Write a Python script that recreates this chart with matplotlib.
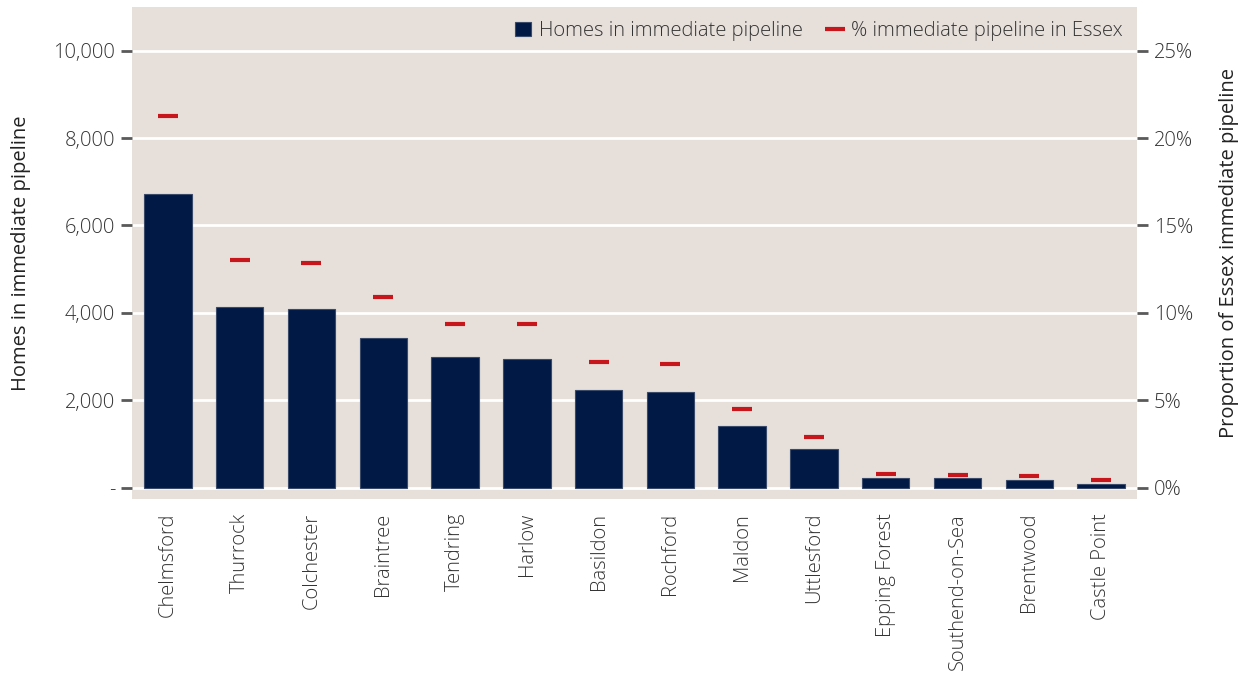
import matplotlib
matplotlib.use("Agg")
import matplotlib.pyplot as plt
from matplotlib.ticker import FuncFormatter, MultipleLocator

plt.rcParams["font.family"] = ["Open Sans", "DejaVu Sans"]
plt.rcParams["font.weight"] = 300

districts = ["Chelmsford", "Thurrock", "Colchester", "Braintree", "Tendring",
             "Harlow", "Basildon", "Rochford", "Maldon", "Uttlesford",
             "Epping Forest", "Southend-on-Sea", "Brentwood", "Castle Point"]
homes = [6725, 4125, 4085, 3420, 2985, 2940, 2237, 2190, 1405, 887,
         215, 215, 170, 85]
pct_essex = [21.24, 13.0, 12.88, 10.9, 9.37, 9.37, 7.18, 7.06, 4.52, 2.9,
             0.80, 0.70, 0.69, 0.46]

NAVY = "#001a45"
RED = "#c8161d"
BG = "#e6dfda"
TICK = "#5a5a5a"
FS = 14.5

fig = plt.figure(figsize=(12.41, 6.75), dpi=100)
ax = fig.add_axes([132 / 1241, 1 - 499 / 675, (1137 - 132) / 1241, (499 - 7) / 675])
ax.set_facecolor(BG)
ax2 = ax.twinx()

x = range(len(districts))
bars = ax.bar(x, homes, width=0.66, color=NAVY, edgecolor="#3a4a6a",
              linewidth=0.8, zorder=3, label="Homes in immediate pipeline")
dash, = ax2.plot(x, pct_essex, linestyle="none", marker="_", markersize=14,
                 markeredgewidth=3, color=RED, zorder=4,
                 label="% immediate pipeline in Essex")

ax.set_xlim(-0.5, len(districts) - 0.5)
ax.set_ylim(-260, 11000)
ax2.set_ylim(-260 / 400, 11000 / 400)

ax.yaxis.set_major_locator(MultipleLocator(2000))
ax.yaxis.set_major_formatter(FuncFormatter(lambda v, p: "-" if v == 0 else f"{v:,.0f}"))
ax2.yaxis.set_major_locator(MultipleLocator(5))
ax2.yaxis.set_major_formatter(FuncFormatter(lambda v, p: f"{v:.0f}%"))

ax.grid(axis="y", color="white", linewidth=2, zorder=1)
ax.set_axisbelow(True)

for a in (ax, ax2):
    for s in a.spines.values():
        s.set_visible(False)
ax.tick_params(axis="y", length=8, width=2, color=TICK, labelsize=FS,
               labelcolor="#333333", pad=4)
ax2.tick_params(axis="y", length=8, width=2, color=TICK, labelsize=FS,
                labelcolor="#333333", pad=4)
ax.tick_params(axis="x", length=0, labelsize=FS, labelcolor="#333333", pad=10)
ax.set_xticks(list(x))
ax.set_xticklabels(districts, rotation=90)

ax.set_ylabel("Homes in immediate pipeline", fontsize=FS, color="#222222", labelpad=16)
ax2.set_ylabel("Proportion of Essex immediate pipeline", fontsize=FS,
               color="#222222", labelpad=19)

leg = ax2.legend([bars, dash], [bars.get_label(), dash.get_label()],
                 loc="upper right", ncol=2, frameon=False, fontsize=FS,
                 handlelength=0.8, handletextpad=0.4, columnspacing=1.2,
                 borderaxespad=0.3)
for t in leg.get_texts():
    t.set_color("#333333")

fig.savefig("out.png", dpi=100)
